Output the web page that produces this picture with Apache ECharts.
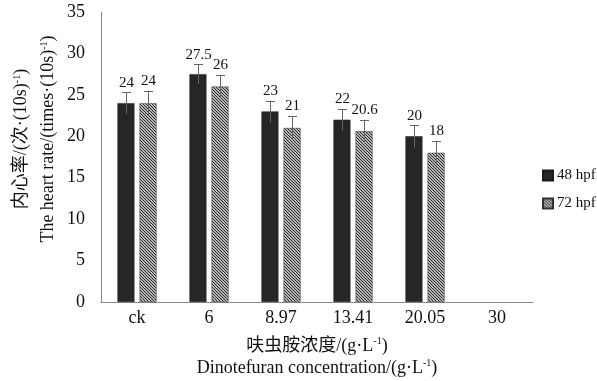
<!DOCTYPE html>
<html>
<head>
<meta charset="utf-8">
<script src="https://cdn.jsdelivr.net/npm/echarts@6/dist/echarts.min.js"></script>
<style>html,body{margin:0;padding:0;background:#fff}#c{width:597px;height:381px}</style>
</head>
<body>
<div id="c"></div>
<script>
var categories = ['ck', '6', '8.97', '13.41', '20.05', '30'];
var seriesNames = ['48 hpf', '72 hpf'];
var values48 = [24, 27.5, 23, 22, 20, null];
var values72 = [24, 26, 21, 20.6, 18, null];
var errors48 = [1.3, 1.2, 1.3, 1.3, 1.35, null];
var errors72 = [1.5, 1.4, 1.45, 1.4, 1.45, null];
var labels48 = ['24', '27.5', '23', '22', '20', ''];
var labels72 = ['24', '26', '21', '20.6', '18', ''];
var yTicks = [0, 5, 10, 15, 20, 25, 30, 35];

var FONT = "'Liberation Serif', 'Times New Roman', 'Noto Sans CJK SC', serif";

function makePattern() {
  var c = document.createElement('canvas');
  c.width = 3; c.height = 3;
  var ctx = c.getContext('2d');
  ctx.fillStyle = '#b4b4b4';
  ctx.fillRect(0, 0, 3, 3);
  ctx.fillStyle = '#303030';
  for (var i = 0; i < 3; i++) {
    ctx.fillRect(i, i, 1, 1);
  }
  return c;
}
var pattern = { image: makePattern(), repeat: 'repeat' };

var BAR_RATIO = 0.236, GAP_RATIO = 0.3;

function errSeries(vals, errs, labels, side) {
  var data = [];
  for (var i = 0; i < vals.length; i++) {
    if (vals[i] == null) continue;
    data.push([i, vals[i], errs[i]]);
  }
  return {
    type: 'custom',
    silent: true,
    z: 10,
    data: data,
    renderItem: function (params, api) {
      var idx = api.value(0), v = api.value(1), e = api.value(2);
      var lab = labels[idx];
      var bw = api.size([1, 0])[0];
      var barW = bw * BAR_RATIO;
      var off = (barW + barW * GAP_RATIO) / 2 * side;
      var top = api.coord([idx, v + e]);
      var bot = api.coord([idx, v - e]);
      var x = Math.round(top[0] + off) + 0.5;
      var cap = 4.5;
      return {
        type: 'group',
        children: [
          { type: 'line', shape: { x1: x, y1: top[1], x2: x, y2: bot[1] }, style: { stroke: '#666', lineWidth: 1 } },
          { type: 'line', shape: { x1: x - cap, y1: Math.round(top[1]) + 0.5, x2: x + cap, y2: Math.round(top[1]) + 0.5 }, style: { stroke: '#666', lineWidth: 1 } },
          { type: 'text', style: { text: lab, x: x, y: top[1] - 2, textAlign: 'center', textVerticalAlign: 'bottom', font: '15px ' + FONT, fill: '#111' } }
        ]
      };
    }
  };
}

var sup = { fontSize: 10, padding: [0, 0, 9, 0], fontFamily: FONT, color: '#111' };

var option = {
  animation: false,
  backgroundColor: '#fff',
  textStyle: { fontFamily: FONT },
  grid: { left: 101, right: 64, top: 12, bottom: 79, containLabel: false, outerBoundsMode: 'none' },
  legend: {
    orient: 'vertical',
    left: 537, top: 163,
    itemWidth: 10, itemHeight: 10, itemGap: 13,
    icon: 'rect',
    data: seriesNames,
    textStyle: { fontFamily: FONT, fontSize: 15, color: '#111', padding: [0, 0, 0, -1] }
  },
  xAxis: {
    type: 'category',
    data: categories,
    axisLine: { lineStyle: { color: '#888', width: 1 } },
    axisTick: { show: false },
    axisLabel: { fontFamily: FONT, fontSize: 18, color: '#111', margin: 7 },
    name: '呋虫胺浓度/(g·L{sup|-1})\nDinotefuran concentration/(g·L{sup|-1})',
    nameLocation: 'middle',
    nameGap: 33,
    nameMoveOverlap: false,
    nameTextStyle: { fontFamily: FONT, fontSize: 18, color: '#111', lineHeight: 22, rich: { sup: sup } }
  },
  yAxis: {
    type: 'value',
    min: 0, max: 35, interval: 5,
    splitLine: { show: false },
    axisLine: { show: true, lineStyle: { color: '#888', width: 1 } },
    axisTick: { show: false },
    axisLabel: { fontFamily: FONT, fontSize: 18, color: '#111', margin: 16,
      formatter: function (v) { return yTicks.indexOf(v) >= 0 ? String(v) : ''; } },
    name: '内心率/(次·(10s){sup|-1})\nThe heart rate/(times·(10s){sup|-1})',
    nameLocation: 'middle',
    nameRotate: 90,
    nameGap: 39,
    nameMoveOverlap: false,
    nameTextStyle: { fontFamily: FONT, fontSize: 18, color: '#111', lineHeight: 27, padding: [0, 0, 0, 36], rich: { sup: sup } }
  },
  series: [
    {
      name: seriesNames[0], type: 'bar', data: values48,
      barWidth: (BAR_RATIO * 100) + '%', barGap: (GAP_RATIO * 100) + '%',
      itemStyle: { color: '#262626', borderColor: '#1a1a1a', borderWidth: 0.5 }
    },
    {
      name: seriesNames[1], type: 'bar', data: values72,
      barWidth: (BAR_RATIO * 100) + '%', barGap: (GAP_RATIO * 100) + '%',
      itemStyle: { color: pattern, borderColor: '#333', borderWidth: 0.5 }
    },
    errSeries(values48, errors48, labels48, -1),
    errSeries(values72, errors72, labels72, 1)
  ]
};
var chart = echarts.init(document.getElementById('c'), null, { renderer: 'canvas' });
chart.setOption(option);
</script>
</body>
</html>
